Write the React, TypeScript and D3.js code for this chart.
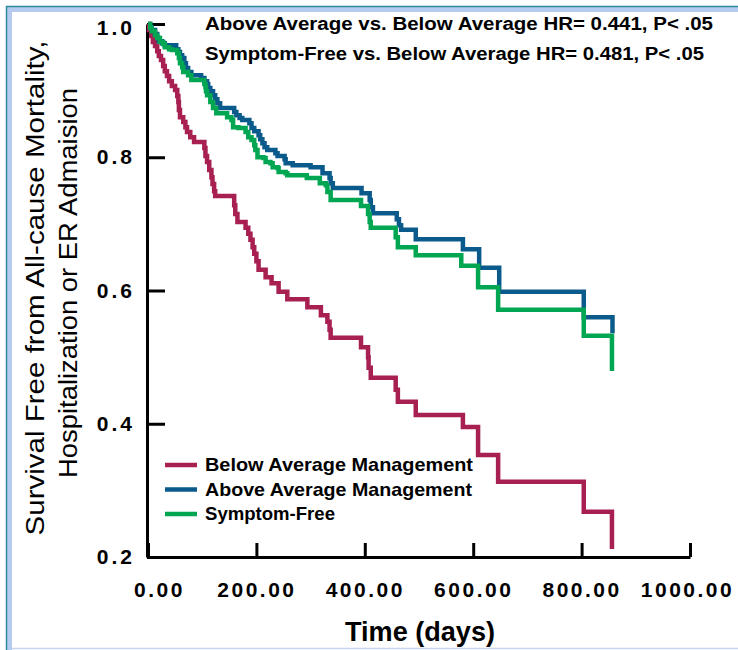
import React, { useRef, useEffect } from 'react';
import * as d3 from 'd3';

// Kaplan-Meier steps: day of each drop and the survival right after it
const belowDays = [2, 6, 9, 13, 17, 20, 24, 28, 31, 35, 39, 44, 50, 54, 56, 57, 59, 65, 69, 72, 78, 85, 104, 106, 109, 113, 117, 119, 122, 124, 159, 161, 165, 180, 185, 189, 193, 196, 200, 204, 217, 228, 241, 257, 294, 319, 331, 335, 337, 393, 406, 407, 411, 457, 461, 494, 581, 609, 646, 804, 856];
const belowSurv = [0.991, 0.982, 0.973, 0.967, 0.959, 0.952, 0.946, 0.937, 0.929, 0.922, 0.914, 0.907, 0.901, 0.892, 0.883, 0.871, 0.86, 0.853, 0.845, 0.838, 0.83, 0.823, 0.814, 0.802, 0.793, 0.781, 0.77, 0.76, 0.749, 0.742, 0.728, 0.715, 0.703, 0.694, 0.685, 0.676, 0.665, 0.655, 0.644, 0.631, 0.62, 0.611, 0.598, 0.587, 0.575, 0.563, 0.553, 0.541, 0.529, 0.515, 0.5, 0.484, 0.469, 0.451, 0.433, 0.413, 0.395, 0.353, 0.313, 0.268, 0.212];

const aboveDays = [4, 7, 13, 17, 20, 26, 31, 52, 56, 59, 63, 67, 70, 74, 80, 98, 104, 109, 111, 115, 120, 124, 128, 133, 159, 163, 169, 174, 187, 191, 196, 204, 207, 211, 215, 220, 235, 239, 252, 254, 267, 300, 322, 335, 337, 341, 394, 409, 411, 415, 459, 463, 467, 494, 581, 611, 648, 804, 857];
const aboveSurv = [0.995, 0.991, 0.985, 0.979, 0.974, 0.971, 0.968, 0.962, 0.958, 0.953, 0.949, 0.941, 0.934, 0.928, 0.923, 0.919, 0.914, 0.91, 0.904, 0.899, 0.893, 0.887, 0.881, 0.874, 0.868, 0.863, 0.859, 0.856, 0.851, 0.844, 0.839, 0.833, 0.827, 0.821, 0.815, 0.811, 0.806, 0.802, 0.797, 0.791, 0.788, 0.785, 0.776, 0.769, 0.761, 0.754, 0.746, 0.736, 0.725, 0.716, 0.707, 0.698, 0.691, 0.677, 0.662, 0.634, 0.598, 0.56, 0.536];

const freeDays = [4, 7, 13, 17, 22, 28, 31, 39, 44, 54, 57, 59, 63, 65, 74, 80, 104, 106, 107, 109, 115, 120, 126, 146, 154, 157, 167, 180, 185, 191, 196, 198, 202, 213, 217, 226, 230, 239, 241, 254, 257, 293, 317, 328, 331, 337, 393, 406, 409, 411, 457, 461, 494, 578, 609, 646, 804, 856];
const freeSurv = [0.994, 0.989, 0.983, 0.979, 0.973, 0.97, 0.965, 0.962, 0.961, 0.956, 0.949, 0.941, 0.935, 0.928, 0.923, 0.916, 0.91, 0.905, 0.899, 0.893, 0.883, 0.874, 0.866, 0.86, 0.856, 0.845, 0.844, 0.838, 0.83, 0.826, 0.818, 0.811, 0.8, 0.799, 0.793, 0.791, 0.785, 0.784, 0.778, 0.776, 0.773, 0.769, 0.761, 0.758, 0.748, 0.736, 0.727, 0.715, 0.703, 0.694, 0.68, 0.665, 0.653, 0.637, 0.605, 0.571, 0.532, 0.479];

const seriesNames = ['Below Average Management', 'Above Average Management', 'Symptom-Free'];
const seriesColors = ['#A81F52', '#0B5A8C', '#00A651'];
const xTicks = [0, 200, 400, 600, 800, 1000];
const yTicks = [0.2, 0.4, 0.6, 0.8, 1.0];
const annotations = [
  'Above Average vs. Below Average HR= 0.441, P< .05',
  'Symptom-Free vs. Below Average HR= 0.481, P< .05',
];
const yTitle = ['Survival Free from All-cause Mortality,', 'Hospitalization or ER Admaision'];
const xTitle = 'Time (days)';

const W = 738;
const H = 650;
const FONT = "'Liberation Sans', Arial, Helvetica, sans-serif";

const App: React.FC = () => {
  const svgRef = useRef<SVGSVGElement>(null);

  useEffect(() => {
    if (!svgRef.current) return;
    const svg = d3.select(svgRef.current);
    svg.selectAll('*').remove();

    const x = d3.scaleLinear().domain([0, 1000]).range([148, 690]);
    const y = d3.scaleLinear().domain([0.2, 1.0]).range([557, 24]);

    // background and window frame
    svg.append('rect').attr('width', W).attr('height', H).attr('fill', '#fff');
    svg.append('rect').attr('x', 6).attr('y', 6).attr('width', W).attr('height', 6).attr('fill', '#B4CBEF');
    svg.append('rect').attr('x', 6).attr('y', 6).attr('width', 6).attr('height', H).attr('fill', '#B4CBEF');
    svg.append('path')
      .attr('d', `M6.5,${H} V6.5 H${W}`)
      .attr('fill', 'none')
      .attr('stroke', '#2E8A9C')
      .attr('stroke-width', 1.5);
    svg.append('line')
      .attr('x1', 12).attr('x2', W).attr('y1', 648.5).attr('y2', 648.5)
      .attr('stroke', '#C6D6EF').attr('stroke-width', 1.5);

    // y axis
    const yAxis = svg.append('g')
      .attr('transform', 'translate(147,0)')
      .call(d3.axisLeft(y).tickValues(yTicks).tickSize(-18).tickSizeOuter(0).tickPadding(12).tickFormat(d3.format('.1f')));
    yAxis.attr('font-family', FONT).attr('font-size', 21).attr('font-weight', 'bold');
    yAxis.select('.domain').attr('stroke', '#000').attr('stroke-width', 3);
    yAxis.selectAll('.tick line').attr('stroke', '#000').attr('stroke-width', 3);
    yAxis.selectAll('.tick text').attr('fill', '#000').style('letter-spacing', '3px');
    yAxis.selectAll<SVGTextElement, number>('.tick text').filter(d => d === 1).attr('dy', '0.5em');

    // x axis
    const xAxis = svg.append('g')
      .attr('transform', 'translate(0,557)')
      .call(d3.axisBottom(x).tickValues(xTicks).tickSize(-14).tickSizeOuter(0).tickPadding(26).tickFormat(d3.format('.2f')));
    xAxis.attr('font-family', FONT).attr('font-size', 21).attr('font-weight', 'bold');
    xAxis.select('.domain').attr('stroke', '#000').attr('stroke-width', 3);
    xAxis.selectAll('.tick line').attr('stroke', '#000').attr('stroke-width', 3);
    xAxis.selectAll('.tick text').attr('fill', '#000').style('letter-spacing', '2.5px').attr('dx', 0).attr('dy', '0.66em');
    xAxis.selectAll<SVGTextElement, number>('.tick text').filter(d => d === 0).attr('x', 11);
    xAxis.selectAll<SVGTextElement, number>('.tick text').filter(d => d === 1000).attr('x', -3);

    // survival curves
    const line = d3.line<[number, number]>()
      .x(d => x(d[0]))
      .y(d => y(d[1]))
      .curve(d3.curveStepAfter);

    const series: [number[], number[]][] = [
      [belowDays, belowSurv],
      [aboveDays, aboveSurv],
      [freeDays, freeSurv],
    ];
    series.forEach(([days, surv], i) => {
      const pts: [number, number][] = [[0, 1], ...days.map((d, j) => [d, surv[j]] as [number, number])];
      svg.append('path')
        .datum(pts)
        .attr('d', line)
        .attr('fill', 'none')
        .attr('stroke', seriesColors[i])
        .attr('stroke-width', 4.5);
    });

    // hazard ratio notes
    const noteLen = [508, 499];
    annotations.forEach((t, i) => {
      svg.append('text')
        .attr('x', 205)
        .attr('y', 30 + i * 30)
        .attr('font-family', FONT)
        .attr('font-size', 18)
        .attr('font-weight', 'bold')
        .attr('textLength', noteLen[i])
        .attr('lengthAdjust', 'spacingAndGlyphs')
        .text(t);
    });

    // legend
    const legendLen = [268, 267, 130];
    seriesNames.forEach((name, i) => {
      const ly = 465 + i * 24.5;
      svg.append('line')
        .attr('x1', 165).attr('x2', 197).attr('y1', ly).attr('y2', ly)
        .attr('stroke', seriesColors[i]).attr('stroke-width', 4.5);
      svg.append('text')
        .attr('x', 205)
        .attr('y', ly + 6)
        .attr('font-family', FONT)
        .attr('font-size', 19)
        .attr('font-weight', 'bold')
        .attr('textLength', legendLen[i])
        .attr('lengthAdjust', 'spacingAndGlyphs')
        .text(name);
    });

    // axis titles
    const titleX = [44, 77];
    const titleY = [288, 283];
    const titleLen = [495, 390];
    yTitle.forEach((t, i) => {
      svg.append('text')
        .attr('transform', `translate(${titleX[i]},${titleY[i]}) rotate(-90)`)
        .attr('text-anchor', 'middle')
        .attr('font-family', FONT)
        .attr('font-size', 26)
        .attr('textLength', titleLen[i])
        .attr('lengthAdjust', 'spacingAndGlyphs')
        .text(t);
    });

    svg.append('text')
      .attr('x', 420)
      .attr('y', 641)
      .attr('text-anchor', 'middle')
      .attr('font-family', FONT)
      .attr('font-size', 27)
      .attr('font-weight', 'bold')
      .attr('textLength', 150)
      .attr('lengthAdjust', 'spacingAndGlyphs')
      .text(xTitle);
  }, []);

  return (
    <svg
      ref={svgRef}
      width={W}
      height={H}
      style={{ position: 'absolute', left: 0, top: 0, display: 'block' }}
    />
  );
};

export default App;
